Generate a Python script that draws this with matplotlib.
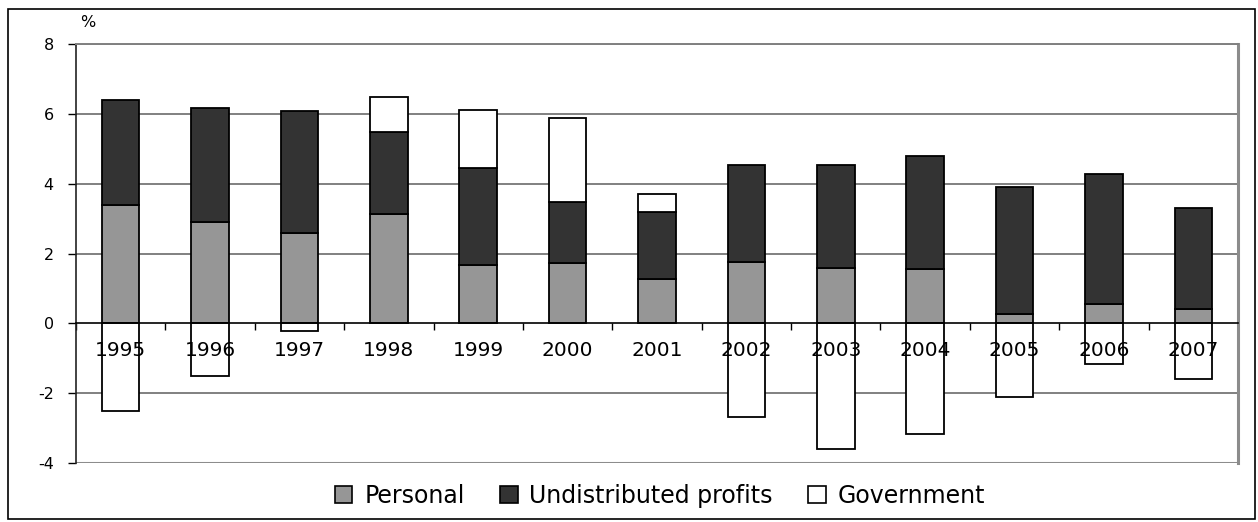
import matplotlib
matplotlib.use("Agg")
import matplotlib.pyplot as plt
from matplotlib.patches import Rectangle, Patch
import numpy as np

plt.rcParams['font.family'] = ['DejaVu Sans']
plt.rcParams['axes.unicode_minus'] = False

years = ["1995", "1996", "1997", "1998", "1999", "2000", "2001",
         "2002", "2003", "2004", "2005", "2006", "2007"]
personal = [3.40, 2.90, 2.60, 3.13, 1.67, 1.72, 1.27, 1.77, 1.60, 1.55, 0.28, 0.55, 0.41]
undistributed = [3.00, 3.28, 3.48, 2.35, 2.78, 1.75, 1.91, 2.77, 2.95, 3.26, 3.64, 3.73, 2.90]
government = [-2.50, -1.50, -0.22, 1.00, 1.67, 2.43, 0.52, -2.67, -3.60, -3.16, -2.10, -1.17, -1.58]

if __name__ == "__main__":

    fig = plt.figure(figsize=(12.58, 5.22), dpi=100)
    ax = fig.add_axes([76/1258, 1-463/522, (1238-76)/1258, (463-44.3)/522])

    X = np.arange(len(years))
    P = np.array(personal)
    U = np.array(undistributed)
    G = np.array(government)
    gov_bottom = np.where(G > 0, P + U, 0)

    # gridlines drawn manually so the tick labels stay above the bars
    for yv in [-2, 2, 4, 6, 8]:
        ax.axhline(yv, color='#808080', linewidth=1.4, zorder=0)
    ax.axhline(-4, color='#8c8c8c', linewidth=2.2, zorder=0)

    bw = 0.42
    ax.bar(X, P, bw, color='#969696', edgecolor='black', linewidth=1.3, label='Personal')
    ax.bar(X, U, bw, bottom=P, color='#333333', edgecolor='black', linewidth=1.3,
           label='Undistributed profits')
    ax.bar(X, G, bw, bottom=gov_bottom, color='white', edgecolor='black', linewidth=1.3,
           label='Government')

    ax.set_xlim(-0.5, len(years) - 0.5)
    ax.set_ylim(-4, 8)

    ax.spines['bottom'].set_position(('data', 0))
    ax.spines['bottom'].set_linewidth(1.2)
    ax.spines['left'].set_linewidth(1.2)
    ax.spines['left'].set_color('#222222')
    ax.spines['top'].set_color('#808080')
    ax.spines['top'].set_linewidth(1.4)
    ax.spines['right'].set_color('#8c8c8c')
    ax.spines['right'].set_linewidth(2.2)

    ax.set_xticks(np.arange(len(years) + 1) - 0.5)
    ax.set_xticklabels([])
    ax.set_xticks(X, minor=True)
    ax.set_xticklabels(years, minor=True, fontsize=14.5)
    ax.tick_params(axis='x', which='major', direction='out', length=5, width=1)
    ax.tick_params(axis='x', which='minor', length=0, pad=13)

    ax.set_yticks([-4, -2, 0, 2, 4, 6, 8])
    ax.tick_params(axis='y', direction='out', length=6, width=1, pad=10, labelsize=11.5)

    fig.text(87.5/1258, 1-22.5/522, '%', ha='center', va='center', fontsize=11.5)

    handles = [Patch(facecolor='#969696', edgecolor='black', linewidth=1.2),
               Patch(facecolor='#333333', edgecolor='black', linewidth=1.2),
               Patch(facecolor='white', edgecolor='black', linewidth=1.2)]
    fig.legend(handles, ['Personal', 'Undistributed profits', 'Government'],
               loc='center', bbox_to_anchor=(660/1258, 1-496/522), ncol=3,
               frameon=False, fontsize=17, handlelength=0.75, handleheight=0.75,
               handletextpad=0.5, columnspacing=1.5)

    fig.add_artist(Rectangle((8/1258, 3/522), (1255-8)/1258, (519-9)/522,
                             transform=fig.transFigure, fill=False,
                             edgecolor='black', linewidth=1.2))

    plt.savefig('out.png', dpi=100)
